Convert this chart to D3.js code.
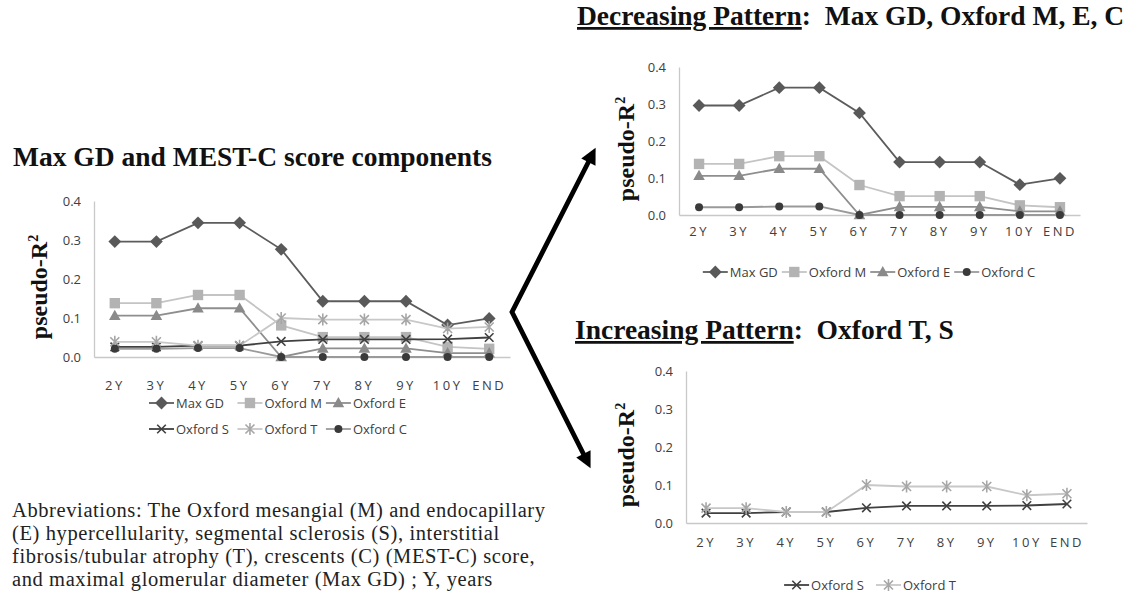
<!DOCTYPE html>
<html>
<head>
<meta charset="utf-8">
<script src="https://cdn.jsdelivr.net/npm/d3@7"></script>
<style>
body{margin:0;background:#fff;}
svg{display:block;}
.tick text{font-family:"Open Sans",sans-serif;font-size:13px;fill:#404040;}
</style>
</head>
<body>
<svg id="fig" width="1133" height="596"></svg>
<script>
//values (pseudo-R2 per follow-up time)
var categories=["2Y","3Y","4Y","5Y","6Y","7Y","8Y","9Y","10Y","END"];
var yTicks=[0,0.1,0.2,0.3,0.4];
var maxGD  =[0.296,0.296,0.344,0.344,0.276,0.143,0.143,0.143,0.082,0.099];
var oxfordM=[0.138,0.138,0.159,0.159,0.081,0.051,0.051,0.051,0.026,0.021];
var oxfordE=[0.106,0.106,0.125,0.125,0.000,0.022,0.022,0.022,0.010,0.010];
var oxfordS=[0.026,0.026,0.029,0.029,0.040,0.045,0.045,0.045,0.046,0.050];
var oxfordT=[0.039,0.039,0.029,0.029,0.100,0.096,0.096,0.096,0.073,0.077];
var oxfordC=[0.021,0.021,0.023,0.023,0.000,0.000,0.000,0.000,0.000,0.000];
var abbrevLines=["Abbreviations: The Oxford mesangial (M) and endocapillary",
	"(E) hypercellularity, segmental sclerosis (S), interstitial",
	"fibrosis/tubular atrophy (T), crescents (C) (MEST-C) score,",
	"and maximal glomerular diameter (Max GD) ; Y, years"];

var svg=d3.select("#fig");
var serif='"Liberation Serif","Times New Roman",serif';

var styles={//line + marker look of each series
	"Max GD":   {sym:"diamond", line:"#5c5c5c", fill:"#595959"},
	"Oxford M": {sym:"square",  line:"#c4c4c4", fill:"#b3b3b3"},
	"Oxford E": {sym:"triangle",line:"#8e8e8e", fill:"#8a8a8a"},
	"Oxford S": {sym:"x",       line:"#404040", fill:"#404040"},
	"Oxford T": {sym:"star",    line:"#c8c8c8", fill:"#a6a6a6"},
	"Oxford C": {sym:"circle",  line:"#9a9a9a", fill:"#3a3a3a"}
};
var seriesData={"Max GD":maxGD,"Oxford M":oxfordM,"Oxford E":oxfordE,"Oxford S":oxfordS,"Oxford T":oxfordT,"Oxford C":oxfordC};

var symbolPath=function(sym){//path of a marker centred on 0,0
	if(sym=="diamond") return "M0,-6.4L6.4,0L0,6.4L-6.4,0Z";
	if(sym=="square") return "M-5.2,-5.2H5.2V5.2H-5.2Z";
	if(sym=="triangle") return "M0,-6L5.8,4.3L-5.8,4.3Z";
	if(sym=="x") return "M-4.3,-4.3L4.3,4.3M-4.3,4.3L4.3,-4.3";
	if(sym=="star") return "M-4.5,-4.5L4.5,4.5M-4.5,4.5L4.5,-4.5M0,-6V6";
	if(sym=="circle") return d3.symbol().type(d3.symbolCircle).size(50)();
};
var addMarker=function(g,name,x,y){
	var st=styles[name];
	var open=(st.sym=="x" || st.sym=="star");
	g.append("path")
		.attr("d",symbolPath(st.sym))
		.attr("transform","translate("+x+","+y+")")
		.attr("fill",open?"none":st.fill)
		.attr("stroke",open?st.fill:"none")
		.attr("stroke-width",1.6);
};

function drawChart(c){//one excel-like line chart
	var g=svg.append("g");
	var x=d3.scaleBand().domain(categories).range([c.left,c.right]);
	var y=d3.scaleLinear().domain([0,0.4]).range([c.bottom,c.top]);
	var ya=g.append("g").attr("transform","translate("+c.left+",0)")
		.call(d3.axisLeft(y).tickValues(yTicks).tickFormat(d3.format(".1f")).tickSize(0).tickPadding(13));
	ya.select(".domain").attr("stroke","#c8c8c8").attr("stroke-width",1.3);
	var xa=g.append("g").attr("transform","translate(0,"+c.bottom+")")
		.call(d3.axisBottom(x).tickSize(0).tickPadding(c.xPad));
	xa.select(".domain").attr("stroke","#c8c8c8").attr("stroke-width",1.3);
	xa.selectAll(".tick text").attr("letter-spacing","2.5px");
	//y title
	var yt=g.append("text")
		.attr("transform","translate("+c.yLabelX+","+((c.top+c.bottom)/2+8)+") rotate(-90)")
		.attr("text-anchor","middle")
		.attr("font-family",serif).attr("font-weight","bold").attr("font-size","24px").attr("fill","#111");
	yt.append("tspan").text("pseudo-R");
	yt.append("tspan").attr("font-size","14px").attr("dy","-9").text("2");
	//series
	var cx=function(i){return x(categories[i])+x.bandwidth()/2;};
	c.series.forEach(function(name){
		var line=d3.line().x(function(d,i){return cx(i);}).y(function(d){return y(d);});
		g.append("path").datum(seriesData[name])
			.attr("d",line).attr("fill","none")
			.attr("stroke",styles[name].line).attr("stroke-width",1.8);
		seriesData[name].forEach(function(v,i){addMarker(g,name,cx(i),y(v));});
	});
	//legend, rows of equal columns or centred single row
	var lg=g.append("g");
	var items=[];
	c.legendRows.forEach(function(row,r){
		row.forEach(function(name,k){
			var it=lg.append("g");
			it.append("line").attr("x1",0).attr("x2",25).attr("y1",0).attr("y2",0)
				.attr("stroke",styles[name].line).attr("stroke-width",1.8);
			addMarker(it,name,12.5,0);
			var t=it.append("text").attr("x",27).attr("dy","0.35em")
				.attr("font-family",'"Open Sans",sans-serif').attr("font-size","13px").attr("fill","#404040")
				.text(name);
			items.push({g:it,r:r,k:k,w:27+t.node().getComputedTextLength()});
		});
	});
	var colW=d3.max(items,function(d){return d.w;})+c.legendGap;
	var rowW=function(r){var its=items.filter(function(d){return d.r==r;});
		return d3.sum(its,function(d){return d.w;})+(its.length-1)*c.legendGap;};
	items.forEach(function(d){
		var x0;
		if(c.legendCols) x0=c.legendX+d.k*colW;
		else{
			var before=items.filter(function(e){return e.r==d.r && e.k<d.k;});
			x0=c.legendCx-rowW(d.r)/2+d3.sum(before,function(e){return e.w+c.legendGap;});
		}
		d.g.attr("transform","translate("+x0+","+c.legendY[d.r]+")");
	});
}

drawChart({left:94,right:510,top:201,bottom:357,xPad:24,yLabelX:47,
	series:["Max GD","Oxford M","Oxford E","Oxford S","Oxford T","Oxford C"],
	legendRows:[["Max GD","Oxford M","Oxford E"],["Oxford S","Oxford T","Oxford C"]],
	legendCols:true,legendX:149,legendGap:4,legendY:[403,429]});
drawChart({left:679,right:1080,top:67,bottom:215,xPad:12,yLabelX:634,
	series:["Max GD","Oxford M","Oxford E","Oxford C"],
	legendRows:[["Max GD","Oxford M","Oxford E","Oxford C"]],
	legendCx:869,legendGap:4,legendY:[272]});
drawChart({left:686,right:1087,top:371,bottom:523,xPad:15,yLabelX:634,
	series:["Oxford S","Oxford T"],
	legendRows:[["Oxford S","Oxford T"]],
	legendCx:870,legendGap:12,legendY:[585]});

//titles
var title=function(x,y,under,rest){
	var t=svg.append("text").attr("x",x).attr("y",y)
		.attr("font-family",serif).attr("font-weight","bold").attr("font-size","27.5px").attr("fill","#111");
	if(under) t.append("tspan").attr("text-decoration","underline").text(under);
	t.append("tspan").style("white-space","pre").text(rest);
};
title(13,166,null,"Max GD and MEST-C score components");
title(577,25,"Decreasing Pattern",":  Max GD, Oxford M, E, C");
title(575,339,"Increasing Pattern",":  Oxford T, S");

//abbreviations note
svg.append("g").selectAll("text").data(abbrevLines).enter().append("text")
	.attr("x",12).attr("y",function(d,i){return 517+i*23;})
	.attr("font-family",serif).attr("font-size","20.5px").attr("letter-spacing","0.6px").attr("fill","#222")
	.text(function(d){return d;});

//arrows from the left chart to the two pattern charts
var defs=svg.append("defs");
defs.append("marker").attr("id","head").attr("viewBox","0 0 10 10")
	.attr("refX",5).attr("refY",5).attr("markerUnits","userSpaceOnUse")
	.attr("markerWidth",18).attr("markerHeight",16).attr("orient","auto-start-reverse")
	.append("path").attr("d","M0,0L10,5L0,10Z").attr("fill","#000");
svg.append("path")
	.attr("d","M592,155L512,312L587,461")
	.attr("fill","none").attr("stroke","#000").attr("stroke-width",4.8)
	.attr("stroke-linejoin","miter")
	.attr("marker-start","url(#head)").attr("marker-end","url(#head)");
</script>
</body>
</html>
